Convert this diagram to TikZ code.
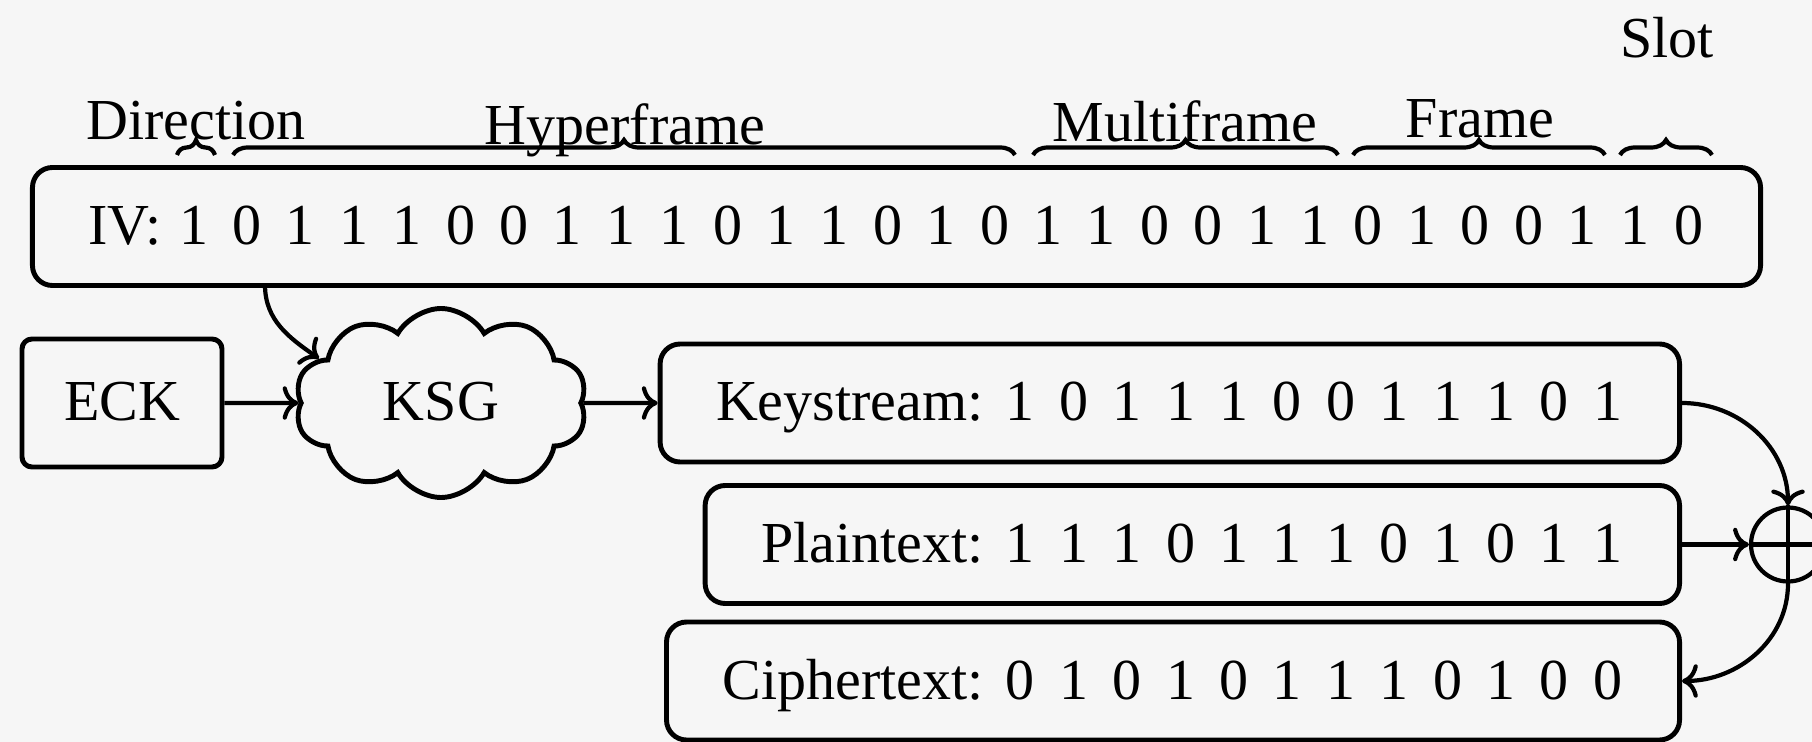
\documentclass[tikz,border=0pt]{standalone}
\usepackage{fontspec}
\setmainfont{Liberation Serif}
\usepackage{tikz}
\usetikzlibrary{arrows.meta}
\usetikzlibrary{shapes.symbols}
\usetikzlibrary{decorations.pathreplacing}

\definecolor{bgcol}{RGB}{246,246,246}
\newcommand{\bitrow}[1]{\hspace{-0.09cm}\foreach \x in {#1}{\makebox[0.534cm]{\x}}}

\tikzset{
  bitbox/.style={draw, rounded corners=0.2cm, line width=1.4pt, anchor=east, inner xsep=0.45cm,
    minimum height=1.18cm, text height=0.36cm, text depth=0cm,
    execute at begin node={\hspace{0.11cm}}},
  keybox/.style={draw, rounded corners=0.1cm, line width=1.4pt, minimum width=2cm,
    minimum height=1.28cm, text height=0.36cm, text depth=0cm},
  ksgcloud/.style={draw, cloud, cloud puffs=10, cloud puff arc=120, aspect=1.55, line width=1.4pt,
    minimum width=2.92cm, minimum height=1.89cm, text height=0.36cm, text depth=0cm},
  fieldbrace/.style={decorate, decoration={brace, amplitude=0.15cm}, line width=1.2pt},
  link/.style={-{To[length=4.5pt, width=9.5pt]}, line width=1.2pt},
  lbl/.style={anchor=base}
}

\begin{document}
\begin{tikzpicture}[font=\fontsize{16.5pt}{19pt}\selectfont]
        \useasboundingbox (0,0) rectangle (18.12,-7.42);
        \clip (0,0) rectangle (18.12,-7.42);
        \fill[bgcol] (0,0) rectangle (18.12,-7.42);

        % initialisation vector
        \node[bitbox] (iv) at (17.63,-2.265) {IV: \bitrow{1,0,1,1,1,0,0,1,1,1,0,1,1,0,1,0,1,1,0,0,1,1,0,1,0,0,1,1,0}};

        % fields of the IV
        \draw[fieldbrace] (1.77,-1.55) -- (2.15,-1.55);
        \draw[fieldbrace] (2.33,-1.55) -- (10.15,-1.55);
        \draw[fieldbrace] (10.33,-1.55) -- (13.38,-1.55);
        \draw[fieldbrace] (13.53,-1.55) -- (16.05,-1.55);
        \draw[fieldbrace] (16.20,-1.55) -- (17.12,-1.55);
        \node[lbl] (dir) at (1.96,-1.40) {Direction};
        \node[lbl] (hyper) at (6.25,-1.45) {Hyperframe};
        \node[lbl] (multi) at (11.85,-1.42) {Multiframe};
        \node[lbl] (frame) at (14.80,-1.38) {Frame};
        \node[lbl] (slot) at (16.67,-0.58) {Slot};

        \node[keybox] (eck) at (1.22,-4.03) {ECK};
        \node[ksgcloud] (ksg) at (4.41,-4.03) {KSG};
        \node[bitbox] (keys) at (16.82,-4.03) {Keystream: \bitrow{1,0,1,1,1,0,0,1,1,1,0,1}};
        \node[bitbox] (plain) at (16.82,-5.445) {Plaintext: \bitrow{1,1,1,0,1,1,1,0,1,0,1,1}};
        \node[bitbox] (ciph) at (16.82,-6.81) {Ciphertext: \bitrow{0,1,0,1,0,1,1,1,0,1,0,0}};
        \node[draw, circle, line width=1.2pt, minimum size=0.74cm, inner sep=0pt] (xor) at (17.88,-5.445) {};
        \coordinate (ivtap) at (2.65,-2.85);

        \draw[link] (ivtap) to[out=-90, in=145] (ksg.160);
        \draw[link] (eck) -- (ksg);
        \draw[link] (ksg) -- (keys);
        \draw[link] (keys.east) to[out=0, in=90] (xor.north);
        \draw[link] (plain) -- (xor);
        \draw[link] (xor.south) to[out=-90, in=0] (ciph.east);
        \draw[line width=1.2pt] (xor.north) -- (xor.south);
        \draw[line width=1.2pt] (xor.west) -- (xor.east);
    \end{tikzpicture}
\end{document}
